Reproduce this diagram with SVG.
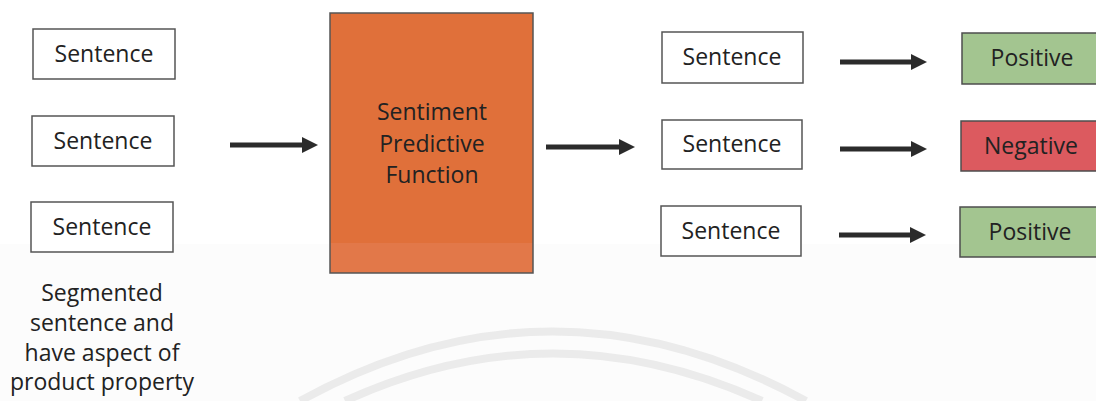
<svg xmlns="http://www.w3.org/2000/svg" width="1096" height="401" viewBox="0 0 1096 401">
  <defs>
    <style>
      .lbl { font-family: "Open Sans", "Liberation Sans", sans-serif; font-size: 23px; fill: #222222; text-anchor: middle; }
      .box { fill: #ffffff; stroke: #555555; stroke-width: 1.5; }
      .pos { fill: #a3c590; stroke: #4d4d4d; stroke-width: 1.5; }
      .neg { fill: #dc5a5f; stroke: #4d4d4d; stroke-width: 1.5; }
      .shaft { stroke: #2b2b2b; stroke-width: 5; fill: none; }
      .tip { fill: #2b2b2b; }
      .mark { fill: none; stroke: #ebebeb; stroke-width: 8; }
    </style>
  </defs>

  <!-- page background -->
  <rect x="0" y="0" width="1096" height="401" fill="#ffffff"/>
  <rect x="0" y="244" width="1096" height="157" fill="#fcfcfc"/>

  <!-- faint seal arcs at the foot of the page -->
  <g id="seal">
    <path class="mark" d="M300,401 Q552,262 806,401"/>
    <path class="mark" d="M345,401 Q553,306 762,401"/>
  </g>

  <!-- input sentences -->
  <g id="in-1">
    <rect class="box" x="33" y="29" width="142" height="50"/>
    <text class="lbl" x="104" y="62">Sentence</text>
  </g>
  <g id="in-2">
    <rect class="box" x="32" y="116" width="142" height="50"/>
    <text class="lbl" x="103" y="149">Sentence</text>
  </g>
  <g id="in-3">
    <rect class="box" x="31" y="202" width="142" height="50"/>
    <text class="lbl" x="102" y="235">Sentence</text>
  </g>
  <g id="in-caption">
    <text class="lbl" x="102" y="301">Segmented</text>
    <text class="lbl" x="102" y="331">sentence and</text>
    <text class="lbl" x="102" y="361">have aspect of</text>
    <text class="lbl" x="102" y="390">product property</text>
  </g>

  <!-- predictive function block -->
  <g id="predictor">
    <rect x="330" y="13" width="203" height="260" fill="#e0703a"/>
    <rect x="330" y="243" width="203" height="30" fill="#e27849"/>
    <rect x="330" y="13" width="203" height="260" fill="none" stroke="#555555" stroke-width="1.5"/>
    <text class="lbl" x="432" y="120">Sentiment</text>
    <text class="lbl" x="432" y="152">Predictive</text>
    <text class="lbl" x="432" y="183">Function</text>
  </g>

  <!-- classified sentences -->
  <g id="out-1">
    <rect class="box" x="662" y="32" width="141" height="51"/>
    <text class="lbl" x="732" y="65">Sentence</text>
  </g>
  <g id="out-2">
    <rect class="box" x="662" y="120" width="140" height="49"/>
    <text class="lbl" x="732" y="152">Sentence</text>
  </g>
  <g id="out-3">
    <rect class="box" x="661" y="206" width="140" height="50"/>
    <text class="lbl" x="731" y="239">Sentence</text>
  </g>

  <!-- polarity results -->
  <g id="res-1">
    <rect class="pos" x="962" y="33" width="141" height="51"/>
    <text class="lbl" x="1032" y="66">Positive</text>
  </g>
  <g id="res-2">
    <rect class="neg" x="961" y="121" width="141" height="50"/>
    <text class="lbl" x="1031" y="154">Negative</text>
  </g>
  <g id="res-3">
    <rect class="pos" x="960" y="207" width="141" height="50"/>
    <text class="lbl" x="1030" y="240">Positive</text>
  </g>

  <!-- connectors: straight shafts with solid triangular heads -->
  <g id="connectors">
    <line class="shaft" x1="230" y1="145" x2="304" y2="145"/>
    <polygon class="tip" points="302,137 318,145 302,153"/>
    <line class="shaft" x1="546" y1="147" x2="621" y2="147"/>
    <polygon class="tip" points="619,139 635,147 619,155"/>
    <line class="shaft" x1="840" y1="62" x2="913" y2="62"/>
    <polygon class="tip" points="911,54 927,62 911,70"/>
    <line class="shaft" x1="840" y1="149" x2="913" y2="149"/>
    <polygon class="tip" points="911,141 927,149 911,157"/>
    <line class="shaft" x1="839" y1="235" x2="912" y2="235"/>
    <polygon class="tip" points="910,227 926,235 910,243"/>
  </g>
</svg>
